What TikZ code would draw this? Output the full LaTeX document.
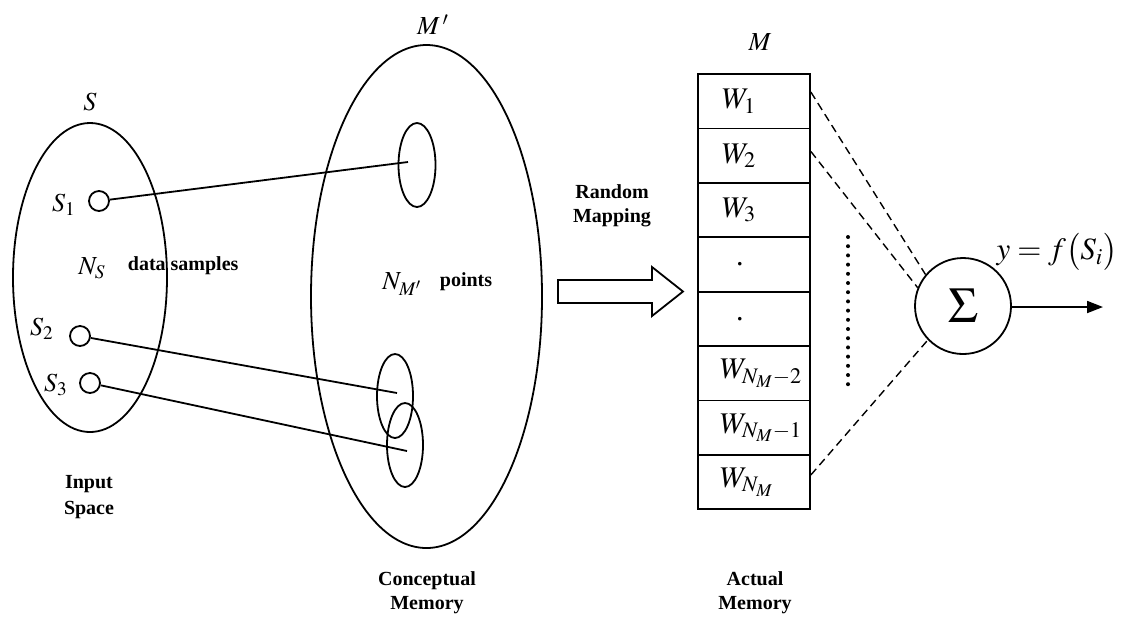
\documentclass[tikz,border=0pt]{standalone}
\usepackage{mathptmx}
\usepackage[no-math]{fontspec}
\setmainfont{Liberation Serif}
\usetikzlibrary{shapes.geometric,arrows.meta,calc}
\begin{document}
\begin{tikzpicture}[x=0.5pt,y=-0.5pt, line width=0.9pt,
  bigell/.style={draw,ellipse,inner sep=0pt},
  dotc/.style={draw,circle,minimum size=10pt,inner sep=0pt},
  lbl/.style={font=\fontsize{13}{15}\selectfont, inner sep=0pt},
  bld/.style={font=\fontsize{10}{12}\selectfont\bfseries, align=center, inner sep=0pt},
  cell/.style={draw, minimum width=56pt, minimum height=27.2pt, inner sep=0pt},
  wl/.style={anchor=west, font=\fontsize{15}{17}\selectfont, inner sep=0pt},
  conn/.style={dash pattern=on 4pt off 2.5pt, line width=0.7pt},
]
\useasboundingbox (0,0) rectangle (1127,618);

% Input space
\node[bigell, minimum width=77pt, minimum height=154.5pt] (Sset) at (90,277.5) {};
\node[lbl] (Slab) at (90,102) {$S$};
\node[dotc] (s1) at (99,201) {};
\node[dotc] (s2) at (80,336) {};
\node[dotc] (s3) at (90,383) {};
\node[lbl] (s1l) at (64,205) {$S_1$};
\node[lbl] (s2l) at (42,329) {$S_2$};
\node[lbl] (s3l) at (56,385) {$S_3$};
\node[lbl] (ns) at (92,268) {$N_S$};
\node[bld, anchor=west] (dsl) at (127,266) {data samples};
\node[bld] (inp) at (89,497) {Input\\[1pt]Space};

% Conceptual memory
\node[bigell, minimum width=115.5pt, minimum height=251.5pt] (Mp) at (426.5,296.5) {};
\node[lbl] (Mplab) at (433,25) {$M\,'$};
\node[bigell, minimum width=18.5pt, minimum height=42pt] (e1) at (417,165) {};
\node[bigell, minimum width=18pt, minimum height=42pt] (e2) at (395,396) {};
\node[bigell, minimum width=18pt, minimum height=42pt] (e3) at (405,445) {};
\coordinate (t1) at (408,162);
\coordinate (t2) at (397,393);
\coordinate (t3) at (407,451);
\draw (s1) -- (t1);
\draw (s2) -- (t2);
\draw (s3) -- (t3);
\node[lbl, anchor=east] (nm) at (423,284) {$N_{M'}$};
\node[bld, anchor=west] (pts) at (439,282) {points};
\node[bld] (cm) at (427,593) {Conceptual\\Memory};

% Random mapping arrow
\node[bld] (rm) at (612,206) {Random\\Mapping};
\draw (558,280) -- (652,280) -- (652,267) -- (683,291.5) -- (652,316) -- (652,303) -- (558,303) -- cycle;

% Actual memory
\node[lbl] (Mlab) at (760,42) {$M$};
\foreach \i in {1,...,8} {
  \node[cell] (c\i) at (754,{74+27.2+54.4*(\i-1)}) {};
}
\node[wl] (w1) at ([xshift=12pt]c1.west) {$W_1$};
\node[wl] (w2) at ([xshift=12pt]c2.west) {$W_2$};
\node[wl] (w3) at ([xshift=12pt]c3.west) {$W_3$};
\node[wl] (w4) at ([xshift=19pt]c4.west) {.};
\node[wl] (w5) at ([xshift=19pt]c5.west) {.};
\node[wl] (w6) at ([xshift=11pt]c6.west) {$W_{N_M-2}$};
\node[wl] (w7) at ([xshift=11pt]c7.west) {$W_{N_M-1}$};
\node[wl] (w8) at ([xshift=11pt]c8.west) {$W_{N_M}$};
\node[bld] (am) at (755,593) {Actual\\Memory};

% vertical dotted line
\coordinate (dtop) at (848,237);
\coordinate (dbot) at (848,388);
\draw[line width=2pt, line cap=round, dash pattern=on 0pt off 4.6pt] (dtop) -- (dbot);

% summation
\node[draw, circle, minimum size=48pt, inner sep=0pt, font=\fontsize{25}{25}\selectfont] (sig) at (963,306) {$\Sigma$};
\draw[conn] ($(c1.north east)+(0,19)$) -- (sig.140);
\draw[conn] ($(c2.north east)+(0,24)$) -- (sig.158);
\draw[conn] ($(c8.north east)+(0,21)$) -- (sig.224);
\coordinate (out) at (1103,307);
\draw[-{Triangle[length=8pt,width=6pt]}] (sig.east |- out) -- (out);
\node[lbl, font=\fontsize{15.5}{17}\selectfont] (yf) at (1057,252) {$y=f\bigl(S_i\bigr)$};
\end{tikzpicture}
\end{document}
